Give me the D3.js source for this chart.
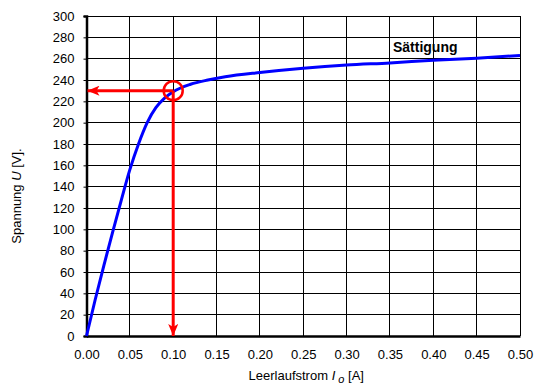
<!DOCTYPE html>
<html>
<head>
<meta charset="utf-8">
<script src="https://cdn.jsdelivr.net/npm/d3@7"></script>
<style>
  body { margin: 0; background: #fff; }
  svg { display: block; font-family: "Liberation Sans", Arial, sans-serif; }
</style>
</head>
<body>
<svg id="chart" width="555" height="392"></svg>
<script>
// Leerlaufkennlinie
const current = [0, 0.01, 0.02, 0.03, 0.04, 0.05, 0.06, 0.07, 0.08, 0.09, 0.10, 0.12, 0.14, 0.16, 0.20, 0.25, 0.30, 0.35, 0.40, 0.45, 0.50];
const voltage = [0, 34, 66, 97, 127, 156, 180, 200, 214, 223, 229, 236, 240, 243, 247, 251, 254, 256, 258.5, 260.5, 263];
const xTicks = [0, 0.05, 0.10, 0.15, 0.20, 0.25, 0.30, 0.35, 0.40, 0.45, 0.50];
const yTicks = [0, 20, 40, 60, 80, 100, 120, 140, 160, 180, 200, 220, 240, 260, 280, 300];
const operatingPoint = [0.10, 230];
const labelPoint = [0.3535, 266.5];

const svg = d3.select("#chart");
const x = d3.scaleLinear().domain([0, 0.5]).range([86.5, 520]);
const y = d3.scaleLinear().domain([0, 300]).range([336, 16]);

// grid
svg.append("g")
  .selectAll("line")
  .data(xTicks)
  .join("line")
  .attr("x1", d => x(d)).attr("x2", d => x(d))
  .attr("y1", y(0)).attr("y2", y(300))
  .attr("stroke", "#000").attr("stroke-width", 1)
  .attr("shape-rendering", "crispEdges");

svg.append("g")
  .selectAll("line")
  .data(yTicks)
  .join("line")
  .attr("x1", x(0)).attr("x2", x(0.5))
  .attr("y1", d => y(d)).attr("y2", d => y(d))
  .attr("stroke", "#000").attr("stroke-width", 1)
  .attr("shape-rendering", "crispEdges");

// axes
const yAxis = svg.append("g")
  .attr("transform", "translate(" + x(0) + ",0)")
  .call(d3.axisLeft(y).tickValues(yTicks).tickSize(3).tickPadding(9).tickFormat(d3.format("d")));
yAxis.select(".domain").attr("stroke-width", 2.5);
yAxis.selectAll("text").style("font-size", "13px").attr("fill", "#000");

const xAxis = svg.append("g")
  .attr("transform", "translate(0," + y(0) + ")")
  .call(d3.axisBottom(x).tickValues(xTicks).tickSize(0).tickPadding(14).tickFormat(d3.format(".2f")));
xAxis.select(".domain").attr("stroke-width", 2.5);
xAxis.selectAll("text").style("font-size", "13px").attr("fill", "#000");

// titles
const xt = svg.append("text")
  .attr("x", x(0.25) + 3)
  .attr("y", 380)
  .attr("text-anchor", "middle")
  .style("font-size", "13px");
xt.append("tspan").text("Leerlaufstrom ");
xt.append("tspan").style("font-style", "italic").text("I");
xt.append("tspan").style("font-style", "italic").style("font-size", "11px").attr("dy", 3).text(" o");
xt.append("tspan").attr("dy", -3).text(" [A]");

const yt = svg.append("text")
  .attr("transform", "translate(21," + 196 + ") rotate(-90)")
  .attr("text-anchor", "middle")
  .style("font-size", "13px");
yt.append("tspan").text("Spannung ");
yt.append("tspan").style("font-style", "italic").text("U");
yt.append("tspan").text(" [V].");

// curve
const pts = current.map((c, i) => [c, voltage[i]]);
svg.append("path")
  .datum(pts)
  .attr("fill", "none")
  .attr("stroke", "#0000ff")
  .attr("stroke-width", 3)
  .attr("d", d3.line().x(d => x(d[0])).y(d => y(d[1])).curve(d3.curveMonotoneX));

// arrows
const defs = svg.append("defs");
defs.append("marker")
  .attr("id", "arrow")
  .attr("viewBox", "0 0 12 10")
  .attr("refX", 12).attr("refY", 5)
  .attr("markerWidth", 12).attr("markerHeight", 10)
  .attr("markerUnits", "userSpaceOnUse")
  .attr("orient", "auto")
  .append("path")
  .attr("d", "M0,0 L12,5 L0,10 L3,5 Z")
  .attr("fill", "#ff0000");

svg.append("line")
  .attr("x1", x(operatingPoint[0])).attr("y1", y(operatingPoint[1]))
  .attr("x2", x(0) + 1).attr("y2", y(operatingPoint[1]))
  .attr("stroke", "#ff0000").attr("stroke-width", 3)
  .attr("marker-end", "url(#arrow)");

svg.append("line")
  .attr("x1", x(operatingPoint[0])).attr("y1", y(operatingPoint[1]))
  .attr("x2", x(operatingPoint[0])).attr("y2", y(0))
  .attr("stroke", "#ff0000").attr("stroke-width", 3)
  .attr("marker-end", "url(#arrow)");

svg.append("circle")
  .attr("cx", x(operatingPoint[0])).attr("cy", y(operatingPoint[1]))
  .attr("r", 9.5)
  .attr("fill", "none")
  .attr("stroke", "#ff0000").attr("stroke-width", 2.5);

// label
svg.append("text")
  .attr("x", x(labelPoint[0])).attr("y", y(labelPoint[1]))
  .style("font-size", "14px").style("font-weight", "bold")
  .text("Sättigung");
</script>
</body>
</html>
